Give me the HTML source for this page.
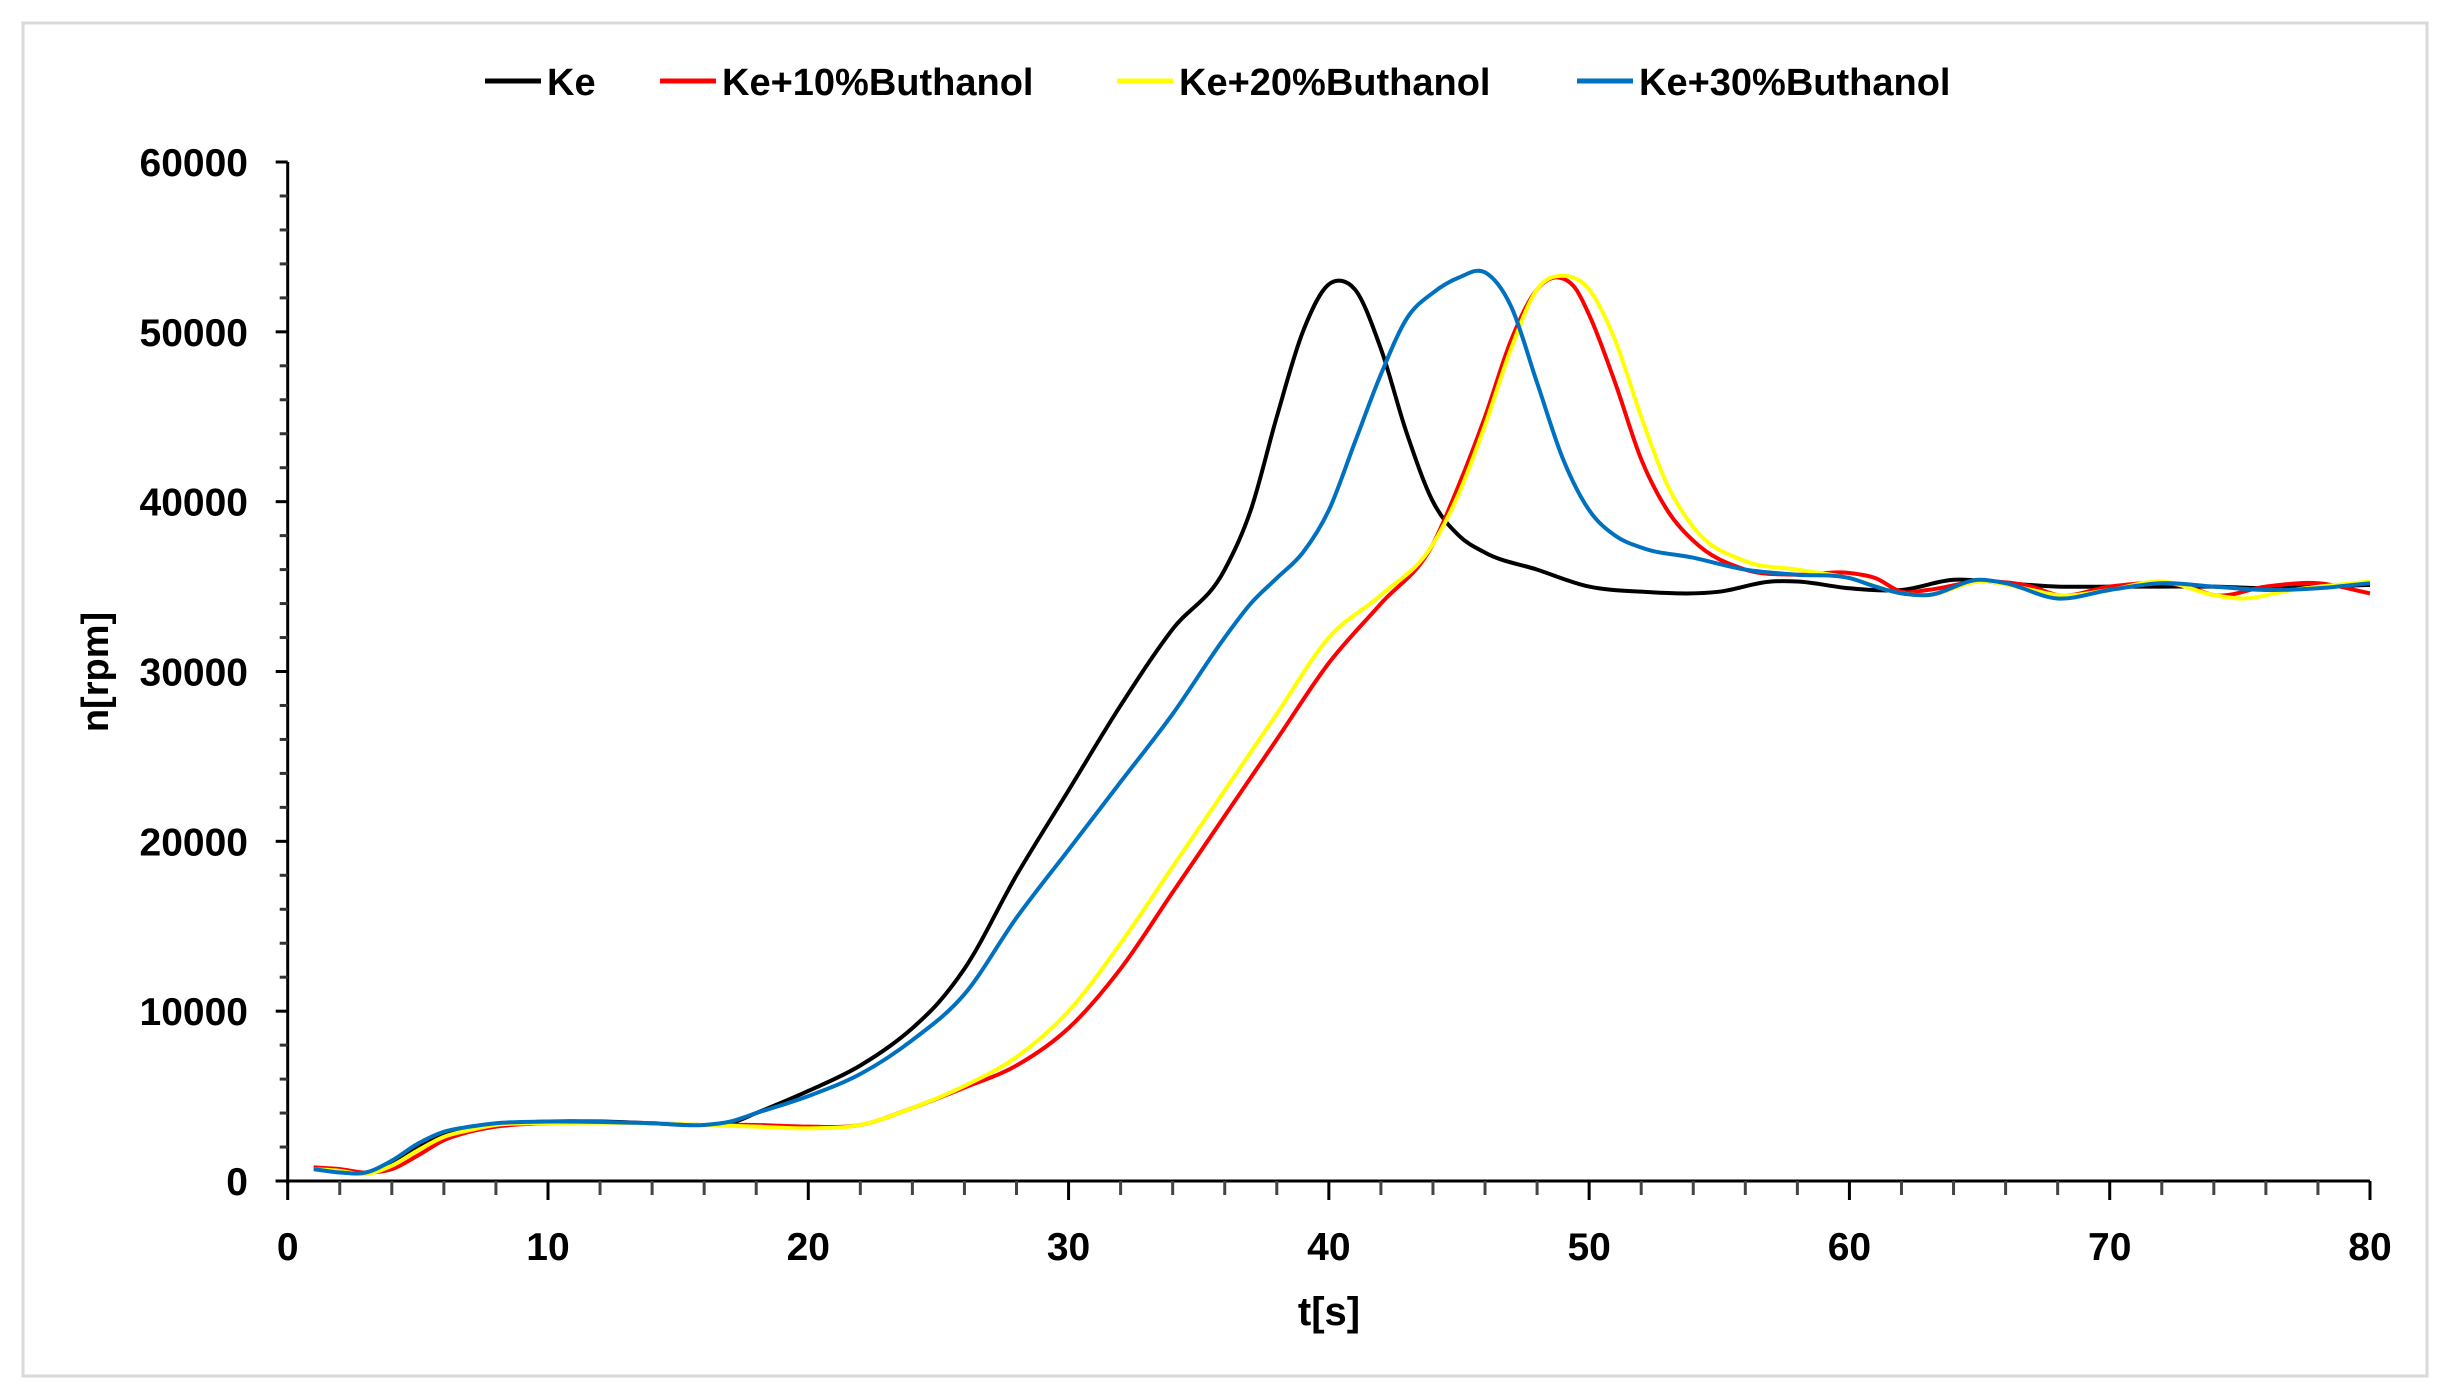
<!DOCTYPE html>
<html><head><meta charset="utf-8"><style>
html,body{margin:0;padding:0;background:#fff}
svg{display:block}
text{font-family:"Liberation Sans",sans-serif;font-weight:bold;fill:#000}
</style></head><body>
<svg id="chart" width="2446" height="1396" viewBox="0 0 2446 1396" xmlns="http://www.w3.org/2000/svg">
<rect x="23" y="23" width="2404" height="1353" fill="#fff" stroke="#d9d9d9" stroke-width="3"/>
<g id="axes"></g>
<g id="series"></g>
<g id="legend"></g>
<text x="0" y="0" font-size="38" text-anchor="middle" transform="translate(108,672) rotate(-90)">n[rpm]</text>
<text x="1329" y="1325" font-size="40" text-anchor="middle">t[s]</text>
</svg>
<script>
const xTicks=[0,10,20,30,40,50,60,70,80];
const yTicks=[0,10000,20000,30000,40000,50000,60000];
const seriesNames=["Ke","Ke+10%Buthanol","Ke+20%Buthanol","Ke+30%Buthanol"];
const seriesColors=["#000000","#ff0000","#ffff00","#0070c0"];
const keT=[1,2,3,4,5,6,7,8,10,12,14,16,17,18,20,22,24,25,26,28,30,32,34,36,37,38,39,40,40.5,41,42,43,44,45,46,48,50,52,55,57,58,60,62,64,66,68,70,72,74,76,78,80];
const keN=[800,600,500,1000,2000,2700,3100,3300,3500,3500,3400,3300,3400,4000,5300,6800,9000,10500,12500,18000,23000,28000,32500,36000,39500,45000,50000,52800,53000,52500,49000,44000,40000,38000,37000,36000,35000,34700,34700,35300,35300,34900,34800,35400,35200,35000,35000,35000,35000,34900,35000,35100];
const b10T=[1,2,3,4,5,6,7,8,10,14,16,18,20,22,24,26,28,30,32,34,36,38,40,42,44,45,46,47,48,48.8,49.5,50,51,52,53,54,56,58,60,61,62,63,65,67,68,70,72,73,74,76,78,80];
const b10N=[800,700,500,700,1500,2400,2900,3200,3400,3400,3300,3300,3200,3300,4300,5500,6800,9000,12500,17000,21500,26000,30500,34000,37500,41000,45000,49500,52500,53200,52500,51000,47000,42500,39500,37700,36000,35700,35800,35500,34700,34800,35300,35000,34500,35000,35200,35000,34500,35000,35200,34600];
const b20T=[1,2,3,4,5,6,7,8,10,14,16,18,20,22,24,26,28,30,32,34,36,38,40,42,44,45,46,47,48,49,50,51,52,53,54,56,58,60,62,63,65,67,68,70,72,74,75,77,80];
const b20N=[700,600,400,900,1800,2600,3000,3300,3400,3400,3300,3200,3100,3300,4300,5600,7300,10000,14000,18500,23000,27500,32000,34500,37500,40500,44500,49000,52500,53300,52500,49500,45000,41000,38500,36500,36000,35500,34600,34500,35300,34800,34500,34800,35300,34500,34300,34800,35300];
const b30T=[1,2,3,4,5,6,7,8,10,14,16,17,18,20,22,24,26,28,30,32,34,36,37,38,39,40,41,42,43,44,45,46,47,48,49,50,51,52,54,56,58,60,61,62,63,65,66,68,70,72,74,76,78,80];
const b30N=[700,500,500,1200,2200,2900,3200,3400,3500,3400,3300,3500,4000,5000,6300,8300,11000,15500,19500,23500,27500,32000,34000,35500,37000,39500,43500,47500,50800,52300,53200,53500,51500,47000,42500,39500,38000,37300,36700,36000,35700,35500,35000,34600,34500,35400,35200,34300,34800,35200,35000,34800,34900,35200];
const allT=[keT,b10T,b20T,b30T], allN=[keN,b10N,b20N,b30N];

const NS="http://www.w3.org/2000/svg";
const X0=287.7,X1=2370,Y0=1181,Y1=162;
const xs=v=>X0+(v/80)*(X1-X0);
const ys=v=>Y0-(v/60000)*(Y0-Y1);
function mk(tag,attrs,parent){const e=document.createElementNS(NS,tag);for(const k in attrs)e.setAttribute(k,attrs[k]);parent.appendChild(e);return e;}
const axes=document.getElementById('axes');
let a=mk('line',{x1:X0,y1:Y1,x2:X0,y2:Y0+3,stroke:'#000','stroke-width':3},axes);


a=mk('line',{x1:X0-12,y1:Y0,x2:X1,y2:Y0,stroke:'#000','stroke-width':3},axes);


for(let v=0;v<=60000;v+=2000){
  const maj=v%10000===0;
  const t=mk('line',{x1:X0-(maj?12:8),y1:ys(v),x2:X0,y2:ys(v),stroke:maj?'#000':'#333','stroke-width':3},axes);
  
  
}
for(let v=0;v<=80;v+=2){
  const maj=v%10===0;
  const t=mk('line',{x1:xs(v),y1:Y0,x2:xs(v),y2:Y0+(maj?19:14),stroke:maj?'#000':'#444','stroke-width':3},axes);
  
  
}
yTicks.forEach(v=>{
  const t=mk('text',{x:248,y:ys(v)+14,'font-size':39,'text-anchor':'end'},axes);
  t.textContent=v;
  
  
});
xTicks.forEach(v=>{
  const t=mk('text',{x:xs(v),y:1260,'font-size':39,'text-anchor':'middle'},axes);
  t.textContent=v;
  
  
});
function pathFor(T,N){
  const n=T.length;
  const m=[];
  for(let i=0;i<n;i++){
    if(i===0) m.push((N[1]-N[0])/(T[1]-T[0]));
    else if(i===n-1) m.push((N[n-1]-N[n-2])/(T[n-1]-T[n-2]));
    else {
      const d0=(N[i]-N[i-1])/(T[i]-T[i-1]), d1=(N[i+1]-N[i])/(T[i+1]-T[i]);
      const h0=T[i]-T[i-1], h1=T[i+1]-T[i];
      m.push((d0*h1+d1*h0)/(h0+h1));
    }
  }
  let d='M'+xs(T[0])+','+ys(N[0]);
  for(let i=0;i<n-1;i++){
    const h=T[i+1]-T[i];
    const c1t=T[i]+h/3, c1n=N[i]+m[i]*h/3;
    const c2t=T[i+1]-h/3, c2n=N[i+1]-m[i+1]*h/3;
    d+=' C'+xs(c1t)+','+ys(c1n)+' '+xs(c2t)+','+ys(c2n)+' '+xs(T[i+1])+','+ys(N[i+1]);
  }
  return d;
}
const sg=document.getElementById('series');
[0,1,2,3].forEach(i=>{
  const l=mk('path',{d:pathFor(allT[i],allN[i]),fill:'none',stroke:seriesColors[i],'stroke-width':4,'stroke-linejoin':'round'},sg);
  
  
});
const lg=document.getElementById('legend');
const lx=[485,660,1117,1577];
seriesNames.forEach((n,i)=>{
  const l=mk('line',{x1:lx[i],y1:81,x2:lx[i]+56,y2:81,stroke:seriesColors[i],'stroke-width':5},lg);
  
  
  const t=mk('text',{x:lx[i]+62,y:95,'font-size':38},lg);
  t.textContent=n;
  
  
});
</script>
</body></html>
